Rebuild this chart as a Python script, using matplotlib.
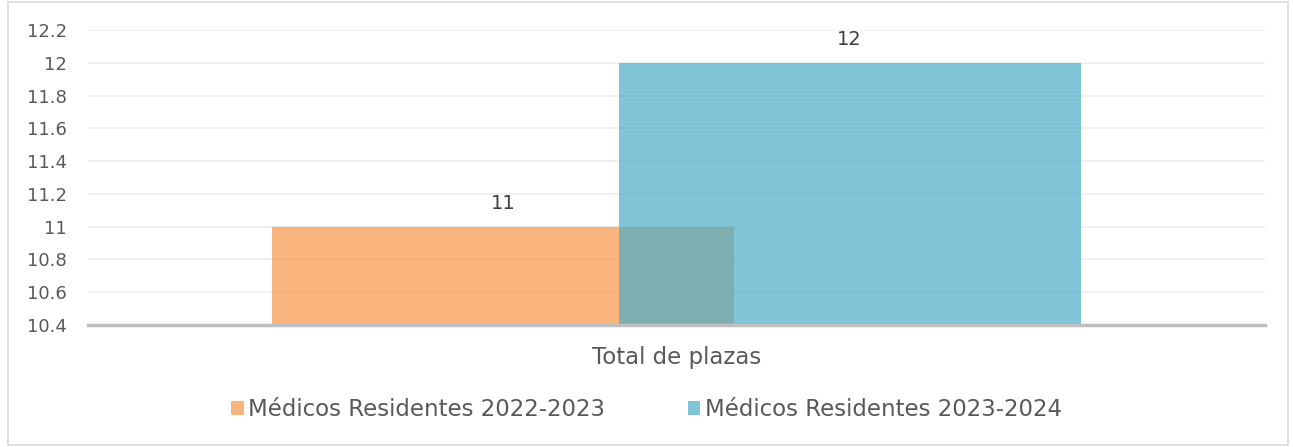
import matplotlib
matplotlib.use("Agg")
import matplotlib.pyplot as plt
from matplotlib.patches import Rectangle, Patch

# Data
category = "Total de plazas"
series = ["Médicos Residentes 2022-2023", "Médicos Residentes 2023-2024"]
values = [11, 12]
colors = ["#F79646", "#4BACC6"]
y_ticks = [10.4, 10.6, 10.8, 11, 11.2, 11.4, 11.6, 11.8, 12, 12.2]
y_labels = ["10.4", "10.6", "10.8", "11", "11.2", "11.4", "11.6", "11.8", "12", "12.2"]

plt.rcParams["font.family"] = ["DejaVu Sans"]
text_color = "#595959"

fig = plt.figure(figsize=(12.93, 4.47), dpi=100)
fig.patches.append(Rectangle((0.006, 0.004), 0.99, 0.992, transform=fig.transFigure,
                             fill=False, edgecolor="#D9D9D9", linewidth=1.2))
ax = fig.add_axes([88 / 1293, 1 - 325 / 447, (1265 - 88) / 1293, 295 / 447])

width = 0.3925
offsets = [-0.147, 0.147]
for off, val, col, name in zip(offsets, values, colors, series):
    ax.bar(off, val - 10.4, width=width, bottom=10.4, color=col, alpha=0.7,
           label=name, zorder=3)
    ax.text(off, val + 0.085, str(val), ha="center", va="bottom",
            fontsize=14, color="#404040")

ax.set_xlim(-0.5, 0.5)
ax.set_ylim(10.4, 12.2)
ax.set_yticks(y_ticks)
ax.set_yticklabels(y_labels)
ax.set_xticks([0])
ax.set_xticklabels([category])
ax.tick_params(axis="y", length=0, labelsize=13, labelcolor=text_color, pad=15)
ax.tick_params(axis="x", length=0, labelsize=16.5, labelcolor=text_color, pad=15)
ax.grid(axis="y", color="#EDEDED", linewidth=1.2, zorder=0)
for side in ["top", "right", "left"]:
    ax.spines[side].set_visible(False)
ax.spines["bottom"].set_color("#BFBFBF")
ax.spines["bottom"].set_linewidth(2.5)
ax.spines["bottom"].set_zorder(4)

handles = [Patch(facecolor=c, alpha=0.7) for c in colors]
fig.legend(handles, series, loc="center", bbox_to_anchor=(0.5, 1 - 410 / 447),
           ncol=2, frameon=False, fontsize=16.5, labelcolor=text_color,
           handlelength=0.55, handleheight=0.55, handletextpad=0.2, columnspacing=3.6)

fig.savefig("out.png", dpi=100)
